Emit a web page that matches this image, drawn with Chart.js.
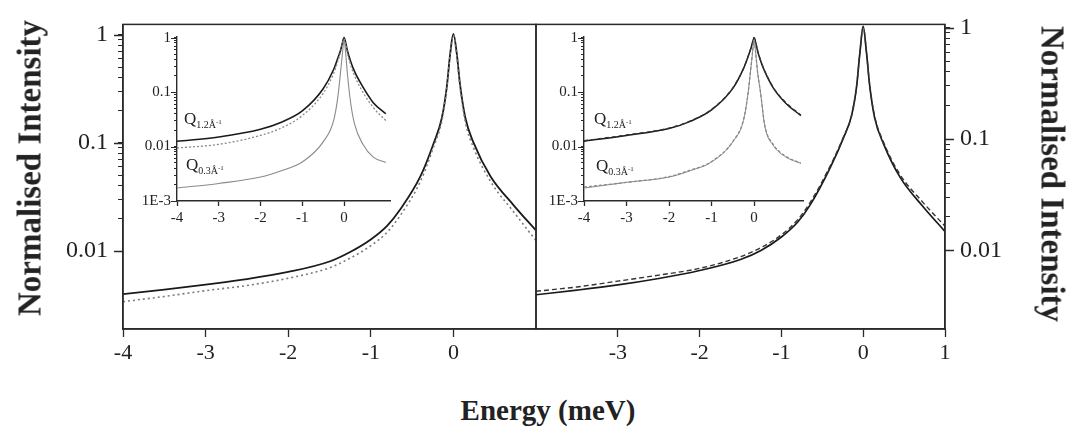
<!DOCTYPE html>
<html>
<head>
<meta charset="utf-8">
<script src="https://cdn.jsdelivr.net/npm/chart.js@4.4.1/dist/chart.umd.min.js"></script>
<style>
  body { margin: 0; background: #fff; }
  #wrap { position: relative; width: 1072px; height: 429px; overflow: hidden; font-family: "Liberation Serif", serif; color: #222; }
  canvas { position: absolute; }
  .q { position: absolute; font-size: 17px; line-height: 17px; white-space: nowrap; }
  .q .sb { font-size: 10px; position: relative; top: 4px; }
  .q sup { font-size: 7px; }
  .xtitle { position: absolute; left: 0; width: 1096px; top: 396px; text-align: center; font: bold 29px/29px "Liberation Serif", serif; color: #222; }
  .ytitle { position: absolute; white-space: nowrap; font: bold 33px/33px "Liberation Serif", serif; color: #222; }
</style>
</head>
<body>
<div id="wrap">
  <canvas id="leftMain" width="540" height="380" style="left:0;top:0"></canvas>
  <canvas id="rightMain" width="552" height="380" style="left:520px;top:0"></canvas>
  <canvas id="leftInset" width="280" height="230" style="left:120px;top:20px"></canvas>
  <canvas id="rightInset" width="290" height="230" style="left:530px;top:20px"></canvas>
  <div class="q" style="left:184px;top:110px">Q<span class="sb">1.2Å<sup>-1</sup></span></div>
  <div class="q" style="left:186px;top:156px">Q<span class="sb">0.3Å<sup>-1</sup></span></div>
  <div class="q" style="left:594px;top:110px">Q<span class="sb">1.2Å<sup>-1</sup></span></div>
  <div class="q" style="left:596px;top:157px">Q<span class="sb">0.3Å<sup>-1</sup></span></div>
  <div class="ytitle" style="left:30px;top:168px;transform:translate(-50%,-50%) rotate(-90deg)">Normalised Intensity</div>
  <div class="ytitle" style="left:1052px;top:174px;transform:translate(-50%,-50%) rotate(90deg)">Normalised Intensity</div>
  <div class="xtitle">Energy (meV)</div>
</div>
<script>
// main panels (energy in meV, normalised intensity)
const leftMainX = [-4, -3.5, -3, -2.5, -2, -1.5, -1.25, -1, -0.8, -0.64, -0.4, -0.24, -0.14, -0.08, -0.04, 0, 0.04, 0.08, 0.145, 0.245, 0.45, 0.73, 1];
const leftMainSolid = [0.0040, 0.0044, 0.0049, 0.0055, 0.0064, 0.0080, 0.0098, 0.0128, 0.0172, 0.0245, 0.049, 0.099, 0.17, 0.33, 0.66, 1.02, 0.68, 0.35, 0.17, 0.10, 0.049, 0.0265, 0.0155];
const leftMainDotted = [0.0034, 0.0038, 0.0043, 0.0048, 0.0056, 0.0070, 0.0086, 0.0112, 0.0150, 0.0215, 0.044, 0.092, 0.16, 0.32, 0.65, 1.0, 0.66, 0.33, 0.155, 0.09, 0.044, 0.023, 0.0125];

const rightMainX = [-4, -3.5, -3, -2.5, -2, -1.5, -1.25, -1, -0.8, -0.65, -0.4, -0.24, -0.14, -0.08, -0.04, 0, 0.04, 0.08, 0.14, 0.25, 0.45, 0.73, 1];
const rightMainSolid = [0.0040, 0.0044, 0.0049, 0.0056, 0.0066, 0.0083, 0.0100, 0.0132, 0.0180, 0.0255, 0.056, 0.103, 0.165, 0.30, 0.60, 1.03, 0.60, 0.30, 0.155, 0.09, 0.0455, 0.0248, 0.0148];
const rightMainDashed = [0.0043, 0.0047, 0.0053, 0.0060, 0.0069, 0.0088, 0.0106, 0.0138, 0.0189, 0.0268, 0.058, 0.105, 0.165, 0.30, 0.60, 1.02, 0.60, 0.30, 0.16, 0.093, 0.048, 0.027, 0.0165];

// insets
const leftInsetX = [-4, -3, -2, -1.5, -1, -0.5, -0.25, -0.15, -0.08, -0.04, 0, 0.04, 0.08, 0.15, 0.25, 0.45, 0.7, 1.0];
const leftInsetQ12Solid = [0.0125, 0.015, 0.0208, 0.028, 0.045, 0.115, 0.26, 0.42, 0.6, 0.8, 1.0, 0.8, 0.58, 0.38, 0.24, 0.125, 0.064, 0.04];
const leftInsetQ12Dotted = [0.0094, 0.011, 0.016, 0.022, 0.037, 0.095, 0.22, 0.37, 0.55, 0.75, 0.95, 0.75, 0.52, 0.33, 0.2, 0.1, 0.052, 0.03];
const leftInsetQ03 = [0.00173, 0.0021, 0.00275, 0.0036, 0.0052, 0.0122, 0.03, 0.08, 0.25, 0.5, 0.92, 0.5, 0.22, 0.07, 0.026, 0.011, 0.0064, 0.0051];

const rightInsetX = [-4, -3, -2, -1.5, -1, -0.5, -0.25, -0.15, -0.08, -0.04, 0, 0.04, 0.08, 0.15, 0.25, 0.45, 0.75, 1.1];
const rightInsetQ12Solid = [0.0125, 0.016, 0.0214, 0.029, 0.047, 0.117, 0.27, 0.43, 0.62, 0.8, 1.0, 0.8, 0.58, 0.38, 0.24, 0.12, 0.062, 0.037];
const rightInsetQ12Dashed = [0.0128, 0.0163, 0.0218, 0.0295, 0.048, 0.12, 0.27, 0.43, 0.62, 0.8, 1.0, 0.8, 0.58, 0.39, 0.245, 0.122, 0.064, 0.038];
const rightInsetQ03Solid = [0.00173, 0.0022, 0.00275, 0.0036, 0.0052, 0.0122, 0.03, 0.085, 0.26, 0.5, 0.92, 0.5, 0.24, 0.1, 0.024, 0.0105, 0.0064, 0.0049];
const rightInsetQ03Dashed = [0.0018, 0.0022, 0.0028, 0.0037, 0.0053, 0.0124, 0.031, 0.085, 0.26, 0.5, 0.9, 0.5, 0.24, 0.1, 0.025, 0.011, 0.0066, 0.005];

// ticks
const leftXTicks = [-4, -3, -2, -1, 0];
const rightXTicks = [-3, -2, -1, 0, 1];
const insetXTicks = [-4, -3, -2, -1, 0];
const mainYMajor = [0.01, 0.1, 1];
const mainYLabels = ['0.01', '0.1', '1'];
const insetYMajor = [0.001, 0.01, 0.1, 1];
const insetYLabels = ['1E-3', '0.01', '0.1', '1'];

const AXIS = '#2a2a2a';
const TEXT = '#222';
const SERIF = '"Liberation Serif", "Times New Roman", serif';

Chart.defaults.font.family = SERIF;
Chart.defaults.color = TEXT;

function pts(xs, ys) {
    return xs.map((x, i) => ({ x: x, y: ys[i] }));
}

// 2..9 x 10^k between the majors
function minorsOf(majors) {
    const out = [];
    for (let i = 0; i < majors.length - 1; i++) {
        for (let k = 2; k <= 9; k++) out.push(majors[i] * k);
    }
    return out;
}

function labelFor(majors, labels) {
    return (v) => {
        const i = majors.findIndex(m => Math.abs(Math.log10(m) - Math.log10(v)) < 1e-6);
        return i >= 0 ? labels[i] : '';
    };
}

function line(data, color, width, dash) {
    return {
        data: data,
        borderColor: color,
        borderWidth: width,
        borderDash: dash || [],
        pointRadius: 0,
        fill: false,
        cubicInterpolationMode: 'monotone'
    };
}

function majorTicks(scaleId, values, length, width) {
    return {
        id: 'majorTicks',
        afterDraw(chart) {
            const s = chart.scales[scaleId];
            const a = chart.chartArea;
            const ctx = chart.ctx;
            const edge = s.position === 'left' ? a.left : a.right;
            const dir = s.position === 'left' ? -1 : 1;
            ctx.save();
            ctx.strokeStyle = AXIS;
            ctx.lineWidth = width;
            ctx.beginPath();
            values.forEach(v => {
                const y = Math.round(s.getPixelForValue(v)) + 0.5;
                ctx.moveTo(edge, y);
                ctx.lineTo(edge + dir * length, y);
            });
            ctx.stroke();
            ctx.restore();
        }
    };
}

const framePlugin = {
    id: 'frame',
    afterDatasetsDraw(chart) {
        const a = chart.chartArea;
        const ctx = chart.ctx;
        ctx.save();
        ctx.strokeStyle = AXIS;
        ctx.lineWidth = 1.5;
        ctx.strokeRect(a.left, a.top, a.right - a.left, a.bottom - a.top);
        ctx.restore();
    }
};

function xAxis(min, max, ticks, height, fontSize, tickLen, pad) {
    return {
        type: 'linear',
        min: min,
        max: max,
        afterBuildTicks: (s) => { s.ticks = ticks.map(v => ({ value: v })); },
        afterFit: (s) => { s.height = height; },
        ticks: { autoSkip: false, maxRotation: 0, padding: pad, font: { size: fontSize }, color: TEXT, callback: (v) => String(v) },
        grid: { drawOnChartArea: false, tickLength: tickLen, tickColor: AXIS, tickWidth: 1.3 },
        border: { display: true, color: AXIS, width: 1.4 }
    };
}

function yAxis(pos, min, max, majors, labels, width, fontSize, tickLen, pad) {
    return {
        type: 'logarithmic',
        position: pos,
        min: min,
        max: max,
        afterBuildTicks: (s) => { s.ticks = majors.concat(minorsOf(majors)).sort((a, b) => a - b).map(v => ({ value: v })); },
        afterFit: (s) => { s.width = width; },
        ticks: { autoSkip: false, padding: pad, font: { size: fontSize }, color: TEXT, callback: labelFor(majors, labels) },
        grid: { drawOnChartArea: false, tickLength: tickLen, tickColor: AXIS, tickWidth: 1 },
        border: { display: true, color: AXIS, width: 1.4 }
    };
}

function baseOptions(padding, scales) {
    return {
        responsive: false,
        animation: false,
        devicePixelRatio: 1,
        layout: { padding: padding },
        plugins: { legend: { display: false }, tooltip: { enabled: false } },
        scales: scales
    };
}

// left main panel
new Chart(document.getElementById('leftMain'), {
    type: 'line',
    data: {
        datasets: [
            line(pts(leftMainX, leftMainDotted), '#7a7a7a', 1.6, [2, 3]),
            line(pts(leftMainX, leftMainSolid), '#1a1a1a', 1.8)
        ]
    },
    options: baseOptions({ top: 20, right: 4, left: 0, bottom: 0 }, {
        x: xAxis(-4, 1, leftXTicks, 51, 22, 8, 3),
        y: yAxis('left', 0.0019, 1.25, mainYMajor, mainYLabels, 123, 24, 5, 10)
    }),
    plugins: [framePlugin, majorTicks('y', mainYMajor, 9, 1.3)]
});

// right main panel
new Chart(document.getElementById('rightMain'), {
    type: 'line',
    data: {
        datasets: [
            line(pts(rightMainX, rightMainDashed), '#333', 1.4, [5, 3]),
            line(pts(rightMainX, rightMainSolid), '#1a1a1a', 1.7)
        ]
    },
    options: baseOptions({ top: 20, right: 0, left: 16, bottom: 0 }, {
        x: xAxis(-4, 1, rightXTicks, 51, 22, 8, 3),
        y: yAxis('right', 0.00197, 1.07, mainYMajor, mainYLabels, 127, 24, 5, 10)
    }),
    plugins: [framePlugin, majorTicks('y', mainYMajor, 9, 1.3)]
});

// left inset
new Chart(document.getElementById('leftInset'), {
    type: 'line',
    data: {
        datasets: [
            line(pts(leftInsetX, leftInsetQ03), '#8a8a8a', 1.1),
            line(pts(leftInsetX, leftInsetQ12Dotted), '#8a8a8a', 1.3, [2, 2]),
            line(pts(leftInsetX, leftInsetQ12Solid), '#1a1a1a', 1.6)
        ]
    },
    options: baseOptions({ top: 16.5, right: 10, left: 0, bottom: 0 }, {
        x: xAxis(-4, 1.1, insetXTicks, 49, 15, 5, 3),
        y: yAxis('left', 0.001, 1.05, insetYMajor, insetYLabels, 57, 15, 3, 3)
    }),
    plugins: [majorTicks('y', insetYMajor, 6, 1.2)]
});

// right inset
new Chart(document.getElementById('rightInset'), {
    type: 'line',
    data: {
        datasets: [
            line(pts(rightInsetX, rightInsetQ03Dashed), '#8a8a8a', 1.3, [3, 2]),
            line(pts(rightInsetX, rightInsetQ03Solid), '#8a8a8a', 1.0),
            line(pts(rightInsetX, rightInsetQ12Dashed), '#333', 1.3, [4, 3]),
            line(pts(rightInsetX, rightInsetQ12Solid), '#1a1a1a', 1.5)
        ]
    },
    options: baseOptions({ top: 16.5, right: 17, left: 0, bottom: 0 }, {
        x: xAxis(-4, 1.15, insetXTicks, 49, 15, 5, 3),
        y: yAxis('left', 0.001, 1.05, insetYMajor, insetYLabels, 54, 15, 3, 3)
    }),
    plugins: [majorTicks('y', insetYMajor, 6, 1.2)]
});
</script>
</body>
</html>
